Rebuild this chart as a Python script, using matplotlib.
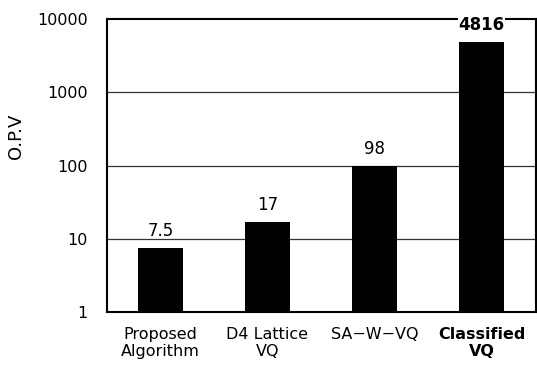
import numpy as np
import matplotlib.pyplot as plt

# data
categories = ['Proposed\nAlgorithm', 'D4 Lattice\nVQ', 'SA\u2212W\u2212VQ', 'Classified\nVQ']
opv = [7.5, 17, 98, 4816]
value_labels = ['7.5', '17', '98', '4816']
bold = [False, False, False, True]
yticks = [1, 10, 100, 1000, 10000]

plt.rcParams['font.family'] = ['DejaVu Sans']

fig = plt.figure(figsize=(5.37, 3.68), dpi=100)
ax = fig.add_axes([107 / 537, (368 - 312) / 368, 429 / 537, 293 / 368])

x = np.arange(len(categories))
ax.bar(x, opv, width=0.42, color='black', zorder=3)

ax.set_yscale('log')
ax.set_ylim(1, 10000)
ax.set_xlim(-0.5, 3.51)

# horizontal grid lines
for v in yticks[1:-1]:
    ax.axhline(v, color='#333333', linewidth=0.9, zorder=1)

ax.set_yticks(yticks)
ax.set_yticklabels([str(t) for t in yticks], fontsize=11.5)
ax.minorticks_off()
ax.tick_params(axis='y', length=0, pad=14)
ax.tick_params(axis='x', length=0, pad=11)

ax.set_xticks(x)
ax.set_xticklabels(categories, fontsize=11.5, linespacing=1.15)
for lbl, b in zip(ax.get_xticklabels(), bold):
    if b:
        lbl.set_fontweight('bold')

for xi, v, t, b in zip(x, opv, value_labels, bold):
    ax.annotate(t, (xi, v), xytext=(0, 6), textcoords='offset points',
                ha='center', va='bottom', fontsize=12,
                fontweight='bold' if b else 'normal',
                bbox=dict(facecolor='white', edgecolor='none', pad=0.5) if b else None,
                zorder=5, annotation_clip=False)

for s in ax.spines.values():
    s.set_linewidth(1.5)
    s.set_color('black')

ax.set_ylabel('O.P.V', fontsize=13)
ax.yaxis.set_label_coords(-0.19, 0.6)

fig.savefig('out.png', dpi=100)
